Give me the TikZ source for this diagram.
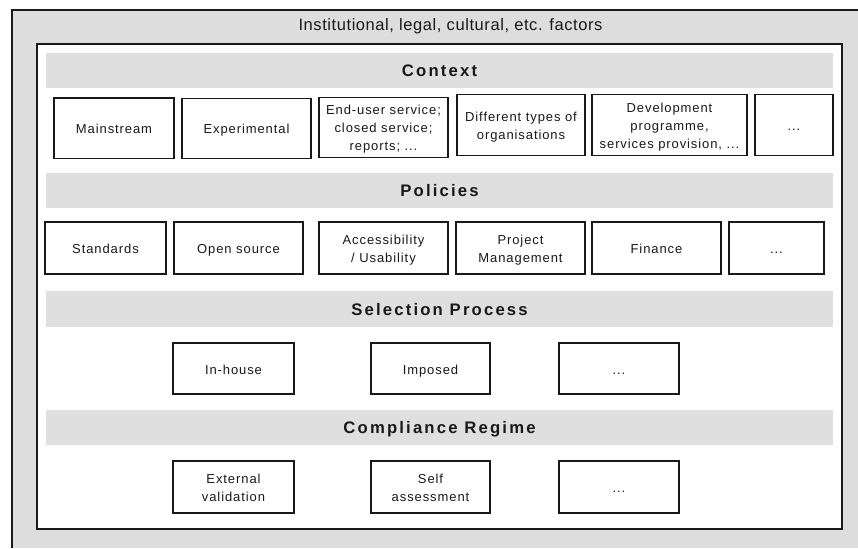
\documentclass[tikz,border=0pt]{standalone}
\usepackage{fontspec}
\setmainfont{Liberation Sans}
\newfontfamily\boxfont[LetterSpace=7]{Liberation Sans}
\newfontfamily\headfont[LetterSpace=13]{Liberation Sans}
\newfontfamily\titlefont[LetterSpace=3.5]{Liberation Sans}
\definecolor{bggrey}{RGB}{221,221,221}
\definecolor{bandgrey}{RGB}{223,223,223}
\definecolor{ink}{RGB}{25,25,25}
\begin{document}
\begin{tikzpicture}[x=1pt,y=-1pt,
  itembox/.style={draw=ink, line width=1.3pt, fill=white, inner sep=0pt, align=center, text=ink,
    text height=12pt, text depth=1pt,
    font=\boxfont\fontsize{13}{17.7}\selectfont},
  twolines/.style={text height=29.7pt},
  threelines/.style={text height=47.4pt},
  band/.style={fill=bandgrey, inner sep=0pt, minimum width=787pt, minimum height=35pt, text=ink,
    text height=13pt, text depth=1pt,
    font=\headfont\bfseries\fontsize{16.7}{20}\selectfont},
  frame/.style={draw=ink, line width=1.3pt}]
\useasboundingbox (0,0) rectangle (858,548);
% outer grey area
\fill[bggrey] (12,10) rectangle (858,548);
\draw[frame] (12,548) -- (12,10) -- (858,10);
\node[font=\titlefont\fontsize{16.5}{20}\selectfont, text=ink] (title) at (450.5,26) {Institutional, legal, cultural, etc. factors};
% inner white area
\draw[frame, fill=white] (37,44) rectangle (842,529);

% Context
\node[band] (bctx) at (439.5,70.5) {Context};
\node[itembox, minimum width=120pt, minimum height=60.5pt] (c1) at (114,128.2) {Mainstream};
\node[itembox, minimum width=129pt, minimum height=60pt] (c2) at (246.5,128.2) {Experimental};
\node[itembox, threelines, minimum width=129pt, minimum height=60pt] (c3) at (383.5,127.2) {End-user service;\\closed service;\\reports; ...};
\node[itembox, twolines, minimum width=128pt, minimum height=60.5pt] (c4) at (521,125) {Different types of\\organisations};
\node[itembox, threelines, minimum width=155pt, minimum height=60.5pt] (c5) at (669.5,125) {Development\\programme,\\services provision, ...};
\node[itembox, minimum width=78pt, minimum height=60.5pt] (c6) at (794,125) {...};

% Policies
\node[band] (bpol) at (439.5,190.5) {Policies};
\node[itembox, minimum width=121pt, minimum height=52pt] (p1) at (105.5,248) {Standards};
\node[itembox, minimum width=129pt, minimum height=52pt] (p2) at (238.5,248) {Open source};
\node[itembox, twolines, minimum width=129pt, minimum height=52pt] (p3) at (383.5,248) {Accessibility\\/ Usability};
\node[itembox, twolines, minimum width=129pt, minimum height=52pt] (p4) at (520.5,248) {Project\\Management};
\node[itembox, minimum width=129pt, minimum height=52pt] (p5) at (656.5,248) {Finance};
\node[itembox, minimum width=95pt, minimum height=52pt] (p6) at (776.5,248) {...};

% Selection Process
\node[band, minimum height=36pt] (bsel) at (439.5,309) {Selection Process};
\node[itembox, minimum width=121pt, minimum height=51pt] (s1) at (233.5,368.5) {In-house};
\node[itembox, minimum width=119pt, minimum height=51pt] (s2) at (430.5,368.5) {Imposed};
\node[itembox, minimum width=120pt, minimum height=51pt] (s3) at (619,368.5) {...};

% Compliance Regime
\node[band] (bcomp) at (439.5,427.5) {Compliance Regime};
\node[itembox, twolines, minimum width=121pt, minimum height=52pt] (r1) at (233.5,487) {External\\validation};
\node[itembox, twolines, minimum width=119pt, minimum height=52pt] (r2) at (430.5,487) {Self\\assessment};
\node[itembox, minimum width=120pt, minimum height=52pt] (r3) at (619,487) {...};
\end{tikzpicture}
\end{document}
